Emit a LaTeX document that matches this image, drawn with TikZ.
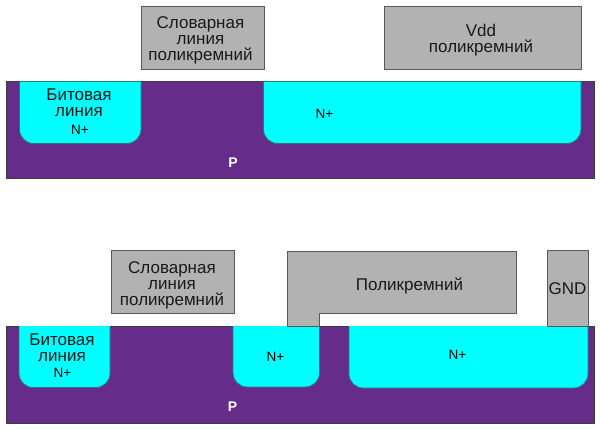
\documentclass[tikz,border=0pt]{standalone}
\usepackage{fontspec}
\setmainfont{Liberation Sans}
\definecolor{subst}{HTML}{652D89}
\definecolor{poly}{HTML}{B2B2B2}
\definecolor{nplus}{HTML}{00FFFF}
\definecolor{edge}{HTML}{3C3C3C}
\tikzset{
  substrate/.style={draw=edge,fill=subst,line width=.9pt},
  well/.style={draw=none,fill=nplus},
  wellline/.style={draw=edge!70!nplus,line width=.9pt},
  polybox/.style={draw=edge!85!white,fill=poly,line width=.9pt},
  big/.style={font=\fontsize{17}{16}\selectfont,align=center,text=black!90,inner sep=0pt},
  small/.style={font=\fontsize{13.5}{14}\selectfont,text=black,inner sep=0pt},
  ptype/.style={font=\bfseries\fontsize{14}{14}\selectfont,text=white,inner sep=0pt}
}
\newcommand{\wellshape}[4]{%
  \fill[well] (#1,#3) -- (#1,#4-14) arc[start angle=180,end angle=270,radius=14pt] -- (#2-14,#4) arc[start angle=270,end angle=360,radius=14pt] -- (#2,#3) -- cycle;
  \draw[wellline] (#1,#3) -- (#1,#4-14) arc[start angle=180,end angle=270,radius=14pt] -- (#2-14,#4) arc[start angle=270,end angle=360,radius=14pt] -- (#2,#3);
}
\begin{document}
\begin{tikzpicture}[x=1pt,y=-1pt]
\useasboundingbox (0,0) rectangle (600,429);
% top device
\draw[substrate] (6.5,81.5) rectangle (594,178);
\wellshape{19.5}{141}{81.5}{143.5}
\wellshape{263.5}{581}{81.5}{143.5}
\draw[polybox] (141,6) rectangle (264,69);
\draw[polybox] (384.5,6.5) rectangle (581.5,69);
\node[big] (wl1) at (200.5,40.5) {Словарная\\линия\\поликремний};
\node[big] (vdd) at (481,40.5) {Vdd\\поликремний};
\node[big] (bl1) at (79,103) {Битовая\\линия};
\node[small] (n1) at (80,130) {N+};
\node[small] (n2) at (324.5,113.5) {N+};
\node[ptype] (p1) at (233,162.5) {P};
% bottom device
\draw[substrate] (6,326) rectangle (594,423);
\wellshape{19}{110}{326}{387.5}
\wellshape{233}{319.5}{326}{387}
\wellshape{349}{588}{326}{388}
\draw[polybox] (111,250.5) rectangle (234,313);
\draw[polybox] (287.5,326) -- (287.5,251) -- (516,251) -- (516,313.5) -- (319.5,313.5) -- (319.5,326) -- cycle;
\draw[polybox] (547,250) rectangle (588.5,326);
\node[big] (wl2) at (172,285) {Словарная\\линия\\поликремний};
\node[big] (poly) at (409.5,285.5) {Поликремний};
\node[big] (gnd) at (567.5,289) {GND};
\node[big] (bl2) at (62,348) {Битовая\\линия};
\node[small] (n3) at (62.5,373) {N+};
\node[small] (n4) at (275.5,357) {N+};
\node[small] (n5) at (457.5,355) {N+};
\node[ptype] (p2) at (232.5,406.5) {P};
\end{tikzpicture}
\end{document}
